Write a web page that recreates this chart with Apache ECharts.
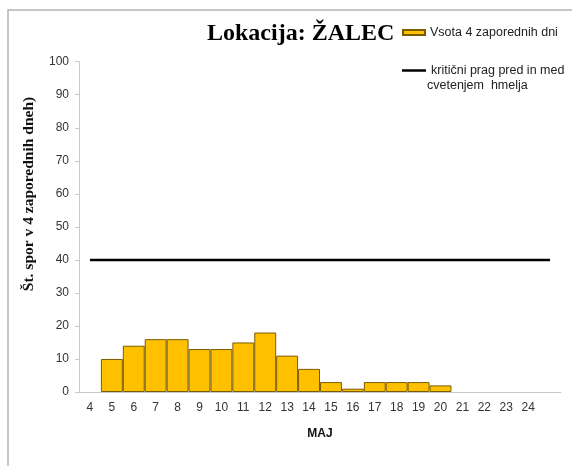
<!DOCTYPE html>
<html><head><meta charset="utf-8">
<script src="https://cdn.jsdelivr.net/npm/echarts@6/dist/echarts.min.js"></script>
<style>html,body{margin:0;padding:0;background:#fff}#c{width:572px;height:466px}</style>
</head><body><div id="c"></div>
<script>
const days = ['4','5','6','7','8','9','10','11','12','13','14','15','16','17','18','19','20','21','22','23','24',''];
const sporeSums = [null,10,14,16,16,13,13,15,18,11,7,3,1,3,3,3,2,null,null,null,null,null];
const threshold = [40,40,40,40,40,40,40,40,40,40,40,40,40,40,40,40,40,40,40,40,40,40];
const barName = 'Vsota 4 zaporednih dni';
const lineName = 'kritični prag pred in med cvetenjem  hmelja';

const chart = echarts.init(document.getElementById('c'), null, {renderer: 'canvas'});
chart.setOption({
  animation: false,
  backgroundColor: '#fff',
  title: {
    text: 'Lokacija: ŽALEC',
    left: 202, top: 17,
    textStyle: {fontFamily: 'Liberation Serif', fontWeight: 'bold', fontSize: 24, color: '#000'}
  },
  legend: [{
    data: [{name: barName, icon: 'rect'}],
    left: 397, top: 21,
    itemWidth: 22, itemHeight: 5, itemGap: 3,
    textStyle: {fontFamily: 'Liberation Sans', fontSize: 12.5, color: '#222'}
  }, {
    data: [{name: lineName, icon: 'rect'}],
    left: 397, top: 59,
    itemWidth: 24, itemHeight: 2.5, itemGap: 3,
    formatter: () => 'kritični prag pred in med',
    textStyle: {fontFamily: 'Liberation Sans', fontSize: 12.5, color: '#222'}
  }],
  graphic: [{
    type: 'rect', silent: true, z: -10,
    shape: {x: 8, y: 10, width: 620, height: 520},
    style: {fill: 'none', stroke: '#b4b4b4', lineWidth: 1.5}
  }, {
    type: 'text', left: 427, top: 79,
    style: {text: 'cvetenjem  hmelja', font: '12.5px "Liberation Sans"', fill: '#222'}
  }, {
    type: 'text', x: 29, y: 194, rotation: Math.PI / 2,
    style: {text: 'Št. spor v 4 zaporednih dneh)', font: 'bold 15.5px "Liberation Serif"', fill: '#111', align: 'center', verticalAlign: 'middle'}
  }],
  grid: {left: 79, right: 11, top: 61.7, bottom: 74, containLabel: false},
  xAxis: {
    type: 'category', data: days, boundaryGap: true,
    name: 'MAJ', nameLocation: 'middle', nameGap: 36,
    nameTextStyle: {fontFamily: 'Liberation Sans', fontWeight: 'bold', fontSize: 12, color: '#111'},
    axisLine: {lineStyle: {color: '#c8c8c8', width: 1}},
    axisTick: {show: false},
    axisLabel: {interval: 0, margin: 10, fontFamily: 'Liberation Sans', fontSize: 12, color: '#333'}
  },
  yAxis: {
    type: 'value', min: 0, max: 100, interval: 10,
    axisLine: {show: true, lineStyle: {color: '#c8c8c8', width: 1}},
    axisTick: {show: true, length: 4, lineStyle: {color: '#c8c8c8'}},
    splitLine: {show: false},
    axisLabel: {margin: 10, fontFamily: 'Liberation Sans', fontSize: 12, color: '#333'}
  },
  series: [{
    name: barName, type: 'bar', data: sporeSums,
    barWidth: '100%', barCategoryGap: '0%',
    itemStyle: {color: '#FFC000', borderColor: '#7a5c00', borderWidth: 1}
  }, {
    name: lineName, type: 'line', data: threshold,
    symbol: 'none', lineStyle: {color: '#000', width: 2.5},
    itemStyle: {color: '#000'}
  }]
});
</script></body></html>
